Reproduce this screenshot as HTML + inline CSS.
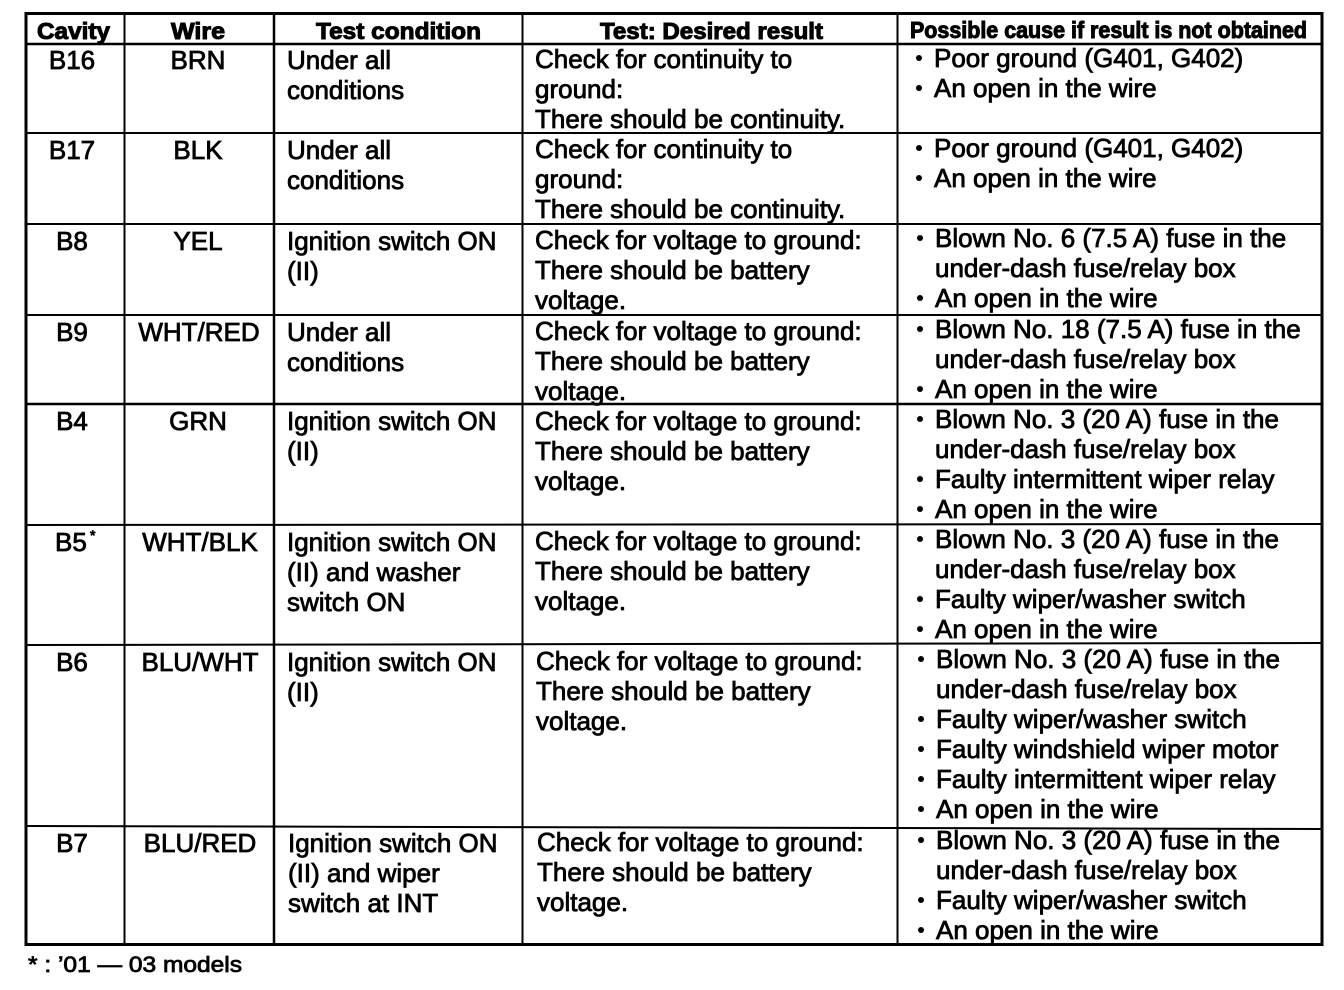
<!DOCTYPE html>
<html><head><meta charset="utf-8"><style>
html,body{margin:0;padding:0;background:#fff;}
svg{display:block;}
text{font-family:"Liberation Sans",Arial,sans-serif;fill:#000;}
.b{font-size:26px;stroke:#000;stroke-width:0.8px;}
.h{font-size:23px;font-weight:bold;stroke:#000;stroke-width:1px;}
.c{text-anchor:middle;}
line{stroke:#000;}
circle{fill:#000;}
</style></head><body>
<svg width="1344" height="990" viewBox="0 0 1344 990" xmlns="http://www.w3.org/2000/svg">
<!-- outer border -->
<rect x="26" y="13.5" width="1296" height="931" fill="none" stroke="#000" stroke-width="3"/>
<!-- header line -->
<line x1="26" y1="44" x2="1322" y2="44" stroke-width="2.5"/>
<!-- row lines -->
<line x1="26" y1="133" x2="1322" y2="133" stroke-width="2"/>
<line x1="26" y1="224" x2="1322" y2="224" stroke-width="2"/>
<line x1="26" y1="315" x2="1322" y2="315" stroke-width="2"/>
<line x1="26" y1="404" x2="1322" y2="404" stroke-width="2.5"/>
<line x1="26" y1="525" x2="1322" y2="524" stroke-width="2"/>
<line x1="26" y1="645" x2="1322" y2="643" stroke-width="2"/>
<line x1="26" y1="826" x2="1322" y2="829" stroke-width="2"/>
<!-- column lines -->
<line x1="124.5" y1="13" x2="124.5" y2="945" stroke-width="2"/>
<line x1="274" y1="13" x2="274" y2="945" stroke-width="2.5"/>
<line x1="522.5" y1="13" x2="522.5" y2="945" stroke-width="2"/>
<line x1="897.5" y1="13" x2="897.5" y2="945" stroke-width="2"/>

<!-- headers -->
<text class="h" x="37" y="39" textLength="73" lengthAdjust="spacingAndGlyphs">Cavity</text>
<text class="h" x="171" y="39" textLength="54" lengthAdjust="spacingAndGlyphs">Wire</text>
<text class="h" x="316" y="39" textLength="165" lengthAdjust="spacingAndGlyphs">Test condition</text>
<text class="h" x="600" y="39" textLength="223" lengthAdjust="spacingAndGlyphs">Test: Desired result</text>
<text class="h" x="910" y="38" textLength="397" lengthAdjust="spacingAndGlyphs">Possible cause if result is not obtained</text>

<!-- Row B16 -->
<text class="b c" x="72" y="69">B16</text>
<text class="b c" x="198" y="69">BRN</text>
<text class="b" x="287" y="69">Under all</text>
<text class="b" x="287" y="99">conditions</text>
<text class="b" x="535" y="68">Check for continuity to</text>
<text class="b" x="535" y="98">ground:</text>
<text class="b" x="535" y="128">There should be continuity.</text>
<text class="b" x="934" y="67">Poor ground (G401, G402)</text>
<text class="b" x="934" y="97">An open in the wire</text>
<circle cx="919" cy="58" r="3"/>
<circle cx="919" cy="88" r="3"/>

<!-- Row B17 -->
<text class="b c" x="72" y="159">B17</text>
<text class="b c" x="198" y="159">BLK</text>
<text class="b" x="287" y="159">Under all</text>
<text class="b" x="287" y="189">conditions</text>
<text class="b" x="535" y="158">Check for continuity to</text>
<text class="b" x="535" y="188">ground:</text>
<text class="b" x="535" y="218">There should be continuity.</text>
<text class="b" x="934" y="157">Poor ground (G401, G402)</text>
<text class="b" x="934" y="187">An open in the wire</text>
<circle cx="919" cy="148" r="3"/>
<circle cx="919" cy="178" r="3"/>

<!-- Row B8 -->
<text class="b c" x="72" y="250">B8</text>
<text class="b c" x="198" y="250">YEL</text>
<text class="b" x="287" y="250">Ignition switch ON</text>
<text class="b" x="287" y="280">(II)</text>
<text class="b" x="535" y="249">Check for voltage to ground:</text>
<text class="b" x="535" y="279">There should be battery</text>
<text class="b" x="535" y="309">voltage.</text>
<text class="b" x="935" y="247">Blown No. 6 (7.5 A) fuse in the</text>
<text class="b" x="935" y="277">under-dash fuse/relay box</text>
<text class="b" x="935" y="307">An open in the wire</text>
<circle cx="920" cy="238" r="3"/>
<circle cx="920" cy="298" r="3"/>

<!-- Row B9 -->
<text class="b c" x="72" y="341">B9</text>
<text class="b c" x="199" y="341">WHT/RED</text>
<text class="b" x="287" y="341">Under all</text>
<text class="b" x="287" y="371">conditions</text>
<text class="b" x="535" y="340">Check for voltage to ground:</text>
<text class="b" x="535" y="370">There should be battery</text>
<text class="b" x="535" y="400">voltage.</text>
<text class="b" x="935" y="338">Blown No. 18 (7.5 A) fuse in the</text>
<text class="b" x="935" y="368">under-dash fuse/relay box</text>
<text class="b" x="935" y="398">An open in the wire</text>
<circle cx="920" cy="329" r="3"/>
<circle cx="920" cy="389" r="3"/>

<!-- Row B4 -->
<text class="b c" x="72" y="430">B4</text>
<text class="b c" x="198" y="430">GRN</text>
<text class="b" x="287" y="430">Ignition switch ON</text>
<text class="b" x="287" y="460">(II)</text>
<text class="b" x="535" y="430">Check for voltage to ground:</text>
<text class="b" x="535" y="460">There should be battery</text>
<text class="b" x="535" y="490">voltage.</text>
<text class="b" x="935" y="428">Blown No. 3 (20 A) fuse in the</text>
<text class="b" x="935" y="458">under-dash fuse/relay box</text>
<text class="b" x="935" y="488">Faulty intermittent wiper relay</text>
<text class="b" x="935" y="518">An open in the wire</text>
<circle cx="920" cy="419" r="3"/>
<circle cx="920" cy="479" r="3"/>
<circle cx="920" cy="509" r="3"/>

<!-- Row B5 -->
<text class="b" x="55" y="551">B5</text>
<text class="b" x="90" y="540" style="font-size:14px">*</text>
<text class="b c" x="200" y="551">WHT/BLK</text>
<text class="b" x="287" y="551">Ignition switch ON</text>
<text class="b" x="287" y="581">(II) and washer</text>
<text class="b" x="287" y="611">switch ON</text>
<text class="b" x="535" y="550">Check for voltage to ground:</text>
<text class="b" x="535" y="580">There should be battery</text>
<text class="b" x="535" y="610">voltage.</text>
<text class="b" x="935" y="548">Blown No. 3 (20 A) fuse in the</text>
<text class="b" x="935" y="578">under-dash fuse/relay box</text>
<text class="b" x="935" y="608">Faulty wiper/washer switch</text>
<text class="b" x="935" y="638">An open in the wire</text>
<circle cx="920" cy="539" r="3"/>
<circle cx="920" cy="599" r="3"/>
<circle cx="920" cy="629" r="3"/>

<!-- Row B6 -->
<text class="b c" x="72" y="671">B6</text>
<text class="b c" x="200" y="671">BLU/WHT</text>
<text class="b" x="287" y="671">Ignition switch ON</text>
<text class="b" x="287" y="701">(II)</text>
<text class="b" x="536" y="670">Check for voltage to ground:</text>
<text class="b" x="536" y="700">There should be battery</text>
<text class="b" x="536" y="730">voltage.</text>
<text class="b" x="936" y="668">Blown No. 3 (20 A) fuse in the</text>
<text class="b" x="936" y="698">under-dash fuse/relay box</text>
<text class="b" x="936" y="728">Faulty wiper/washer switch</text>
<text class="b" x="936" y="758">Faulty windshield wiper motor</text>
<text class="b" x="936" y="788">Faulty intermittent wiper relay</text>
<text class="b" x="936" y="818">An open in the wire</text>
<circle cx="921" cy="659" r="3"/>
<circle cx="921" cy="719" r="3"/>
<circle cx="921" cy="749" r="3"/>
<circle cx="921" cy="779" r="3"/>
<circle cx="921" cy="809" r="3"/>

<!-- Row B7 -->
<text class="b c" x="72" y="852">B7</text>
<text class="b c" x="200" y="852">BLU/RED</text>
<text class="b" x="288" y="852">Ignition switch ON</text>
<text class="b" x="288" y="882">(II) and wiper</text>
<text class="b" x="288" y="912">switch at INT</text>
<text class="b" x="537" y="851">Check for voltage to ground:</text>
<text class="b" x="537" y="881">There should be battery</text>
<text class="b" x="537" y="911">voltage.</text>
<text class="b" x="936" y="849">Blown No. 3 (20 A) fuse in the</text>
<text class="b" x="936" y="879">under-dash fuse/relay box</text>
<text class="b" x="936" y="909">Faulty wiper/washer switch</text>
<text class="b" x="936" y="939">An open in the wire</text>
<circle cx="921" cy="840" r="3"/>
<circle cx="921" cy="900" r="3"/>
<circle cx="921" cy="930" r="3"/>

<!-- footnote -->
<text class="b" x="28" y="972" style="font-size:22px" textLength="214" lengthAdjust="spacingAndGlyphs">* : ’01 — 03 models</text>
</svg>
</body></html>
